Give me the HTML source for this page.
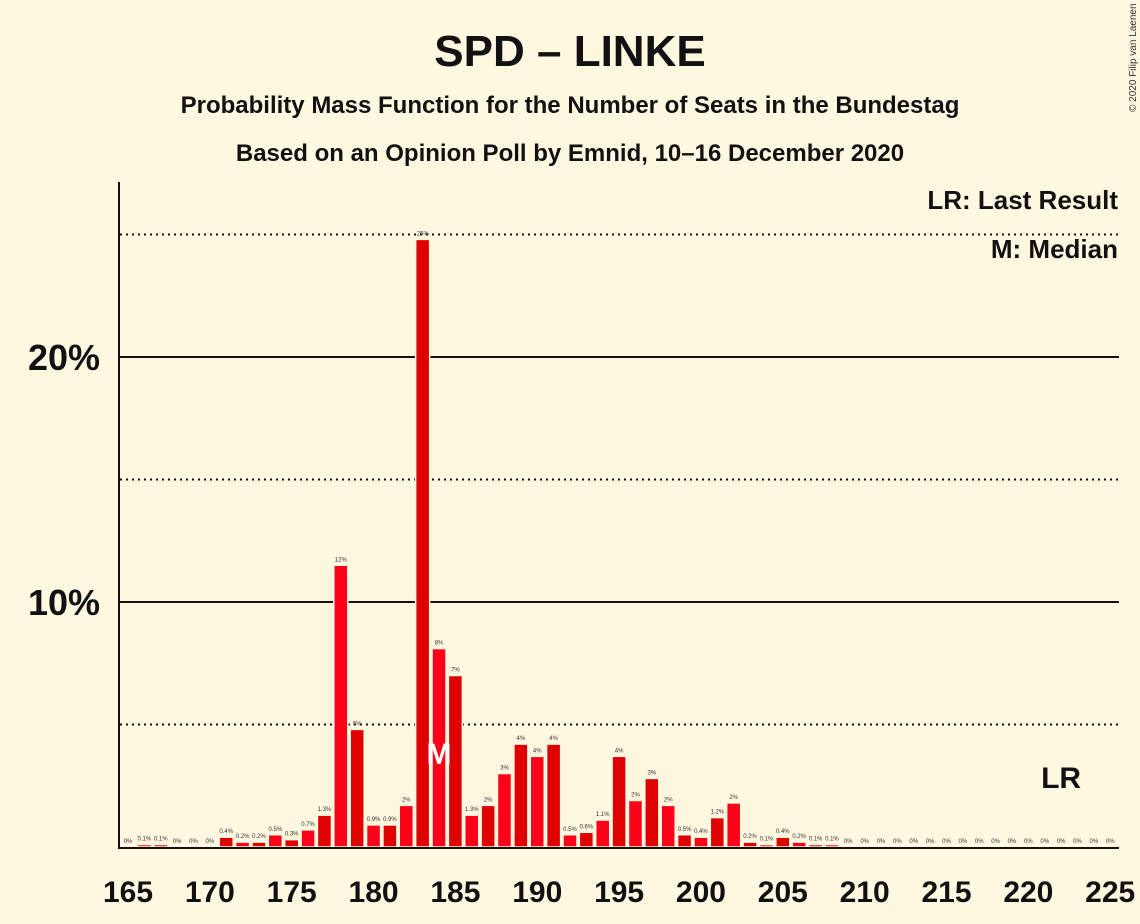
<!DOCTYPE html>
<html><head><meta charset="utf-8"><style>
html,body{margin:0;padding:0;background:#fff8e1;}
svg{display:block;font-family:"Liberation Sans",sans-serif;}
</style></head><body>
<svg id="chart" width="1140" height="924" viewBox="0 0 1140 924">
<rect width="1140" height="924" fill="#fff8e1"/>
<text x="570" y="66" text-anchor="middle" font-size="44" font-weight="bold" fill="#111">SPD – LINKE</text>
<text x="570" y="113" text-anchor="middle" font-size="24" font-weight="bold" fill="#111">Probability Mass Function for the Number of Seats in the Bundestag</text>
<text x="570" y="161" text-anchor="middle" font-size="24" font-weight="bold" fill="#111">Based on an Opinion Poll by Emnid, 10–16 December 2020</text>
<text transform="translate(1136,112) rotate(-90)" font-size="10" fill="#333">© 2020 Filip van Laenen</text>
<g id="grid"></g>
<g id="bars"></g>
<g id="labels"></g>
<line x1="119" y1="182" x2="119" y2="848" stroke="#111" stroke-width="2"/>
<line x1="118" y1="848" x2="1119" y2="848" stroke="#111" stroke-width="2"/>
<g id="xticks"></g>
<g id="yticks"></g>
<text x="1118" y="209" text-anchor="end" font-size="26" font-weight="bold" fill="#111">LR: Last Result</text>
<text x="1118" y="258" text-anchor="end" font-size="26" font-weight="bold" fill="#111">M: Median</text>
</svg>
<script>
const seats = [];
for (let s = 165; s <= 225; s++) seats.push(s);
const probs = [0,0.1,0.1,0,0,0,0.4,0.2,0.2,0.5,0.3,0.7,1.3,11.5,4.8,0.9,0.9,1.7,24.8,8.1,7.0,1.3,1.7,3.0,4.2,3.7,4.2,0.5,0.6,1.1,3.7,1.9,2.8,1.7,0.5,0.4,1.2,1.8,0.2,0.1,0.4,0.2,0.1,0.1,0,0,0,0,0,0,0,0,0,0,0,0,0,0,0,0,0];
const valueLabels = ["0%","0.1%","0.1%","0%","0%","0%","0.4%","0.2%","0.2%","0.5%","0.3%","0.7%","1.3%","12%","5%","0.9%","0.9%","2%","25%","8%","7%","1.3%","2%","3%","4%","4%","4%","0.5%","0.6%","1.1%","4%","2%","3%","2%","0.5%","0.4%","1.2%","2%","0.2%","0.1%","0.4%","0.2%","0.1%","0.1%","0%","0%","0%","0%","0%","0%","0%","0%","0%","0%","0%","0%","0%","0%","0%","0%","0%"];
const xTickLabels = [165,170,175,180,185,190,195,200,205,210,215,220,225];
const yTickValues = [10,20];
const gridSolid = [10,20];
const gridDotted = [5,15,25];
const medianSeat = 184;
const lastResultSeat = 222;

const NS = "http://www.w3.org/2000/svg";
const X = s => 128 + (s - 165) * 16.37;
const Y = p => 847 - p * 24.5;
function mk(tag, attrs, parent, txt) {
  const el = document.createElementNS(NS, tag);
  for (const k in attrs) el.setAttribute(k, attrs[k]);
  if (txt !== undefined) el.textContent = txt;
  parent.appendChild(el);
  return el;
}
const grid = document.getElementById('grid');
gridSolid.forEach(v => {
  const l = mk('line', {x1:120, x2:1119, y1:Y(v), y2:Y(v), stroke:'#111', 'stroke-width':2}, grid);
  
  
});
gridDotted.forEach(v => {
  const l = mk('line', {x1:120, x2:1119, y1:Y(v), y2:Y(v), stroke:'#111', 'stroke-width':2, 'stroke-dasharray':'2,4'}, grid);
  
  
});
const bars = document.getElementById('bars');
const labels = document.getElementById('labels');
seats.forEach((s, i) => {
  const p = probs[i];
  const cx = X(s);
  const color = (s % 2 === 1) ? '#df0000' : '#ff0018';
  if (p > 0) {
    const r = mk('rect', {x:cx-7, y:Y(p), width:14, height:847-Y(p), fill:color, stroke:'#fff8e1', 'stroke-width':1.5}, bars);
    
    
  }
  const t = mk('text', {x:cx, y:Y(p)-4, 'text-anchor':'middle', 'font-size':6, fill:'#333'}, labels, valueLabels[i]);
  
  
});
const m = mk('text', {x:X(medianSeat), y:764, 'text-anchor':'middle', 'font-size':30, 'font-weight':'bold', fill:'#fff'}, labels, 'M');


const lr = mk('text', {x:X(lastResultSeat), y:788, 'text-anchor':'middle', 'font-size':30, 'font-weight':'bold', fill:'#111'}, labels, 'LR');


const xt = document.getElementById('xticks');
xTickLabels.forEach(s => {
  const t = mk('text', {x:X(s), y:902, 'text-anchor':'middle', 'font-size':30, 'font-weight':'bold', fill:'#111'}, xt, String(s));
  
  
});
const yt = document.getElementById('yticks');
yTickValues.forEach(v => {
  const t = mk('text', {x:100, y:Y(v)+13, 'text-anchor':'end', 'font-size':36, 'font-weight':'bold', fill:'#111'}, yt, v + '%');
  
  
});
</script>
</body></html>
